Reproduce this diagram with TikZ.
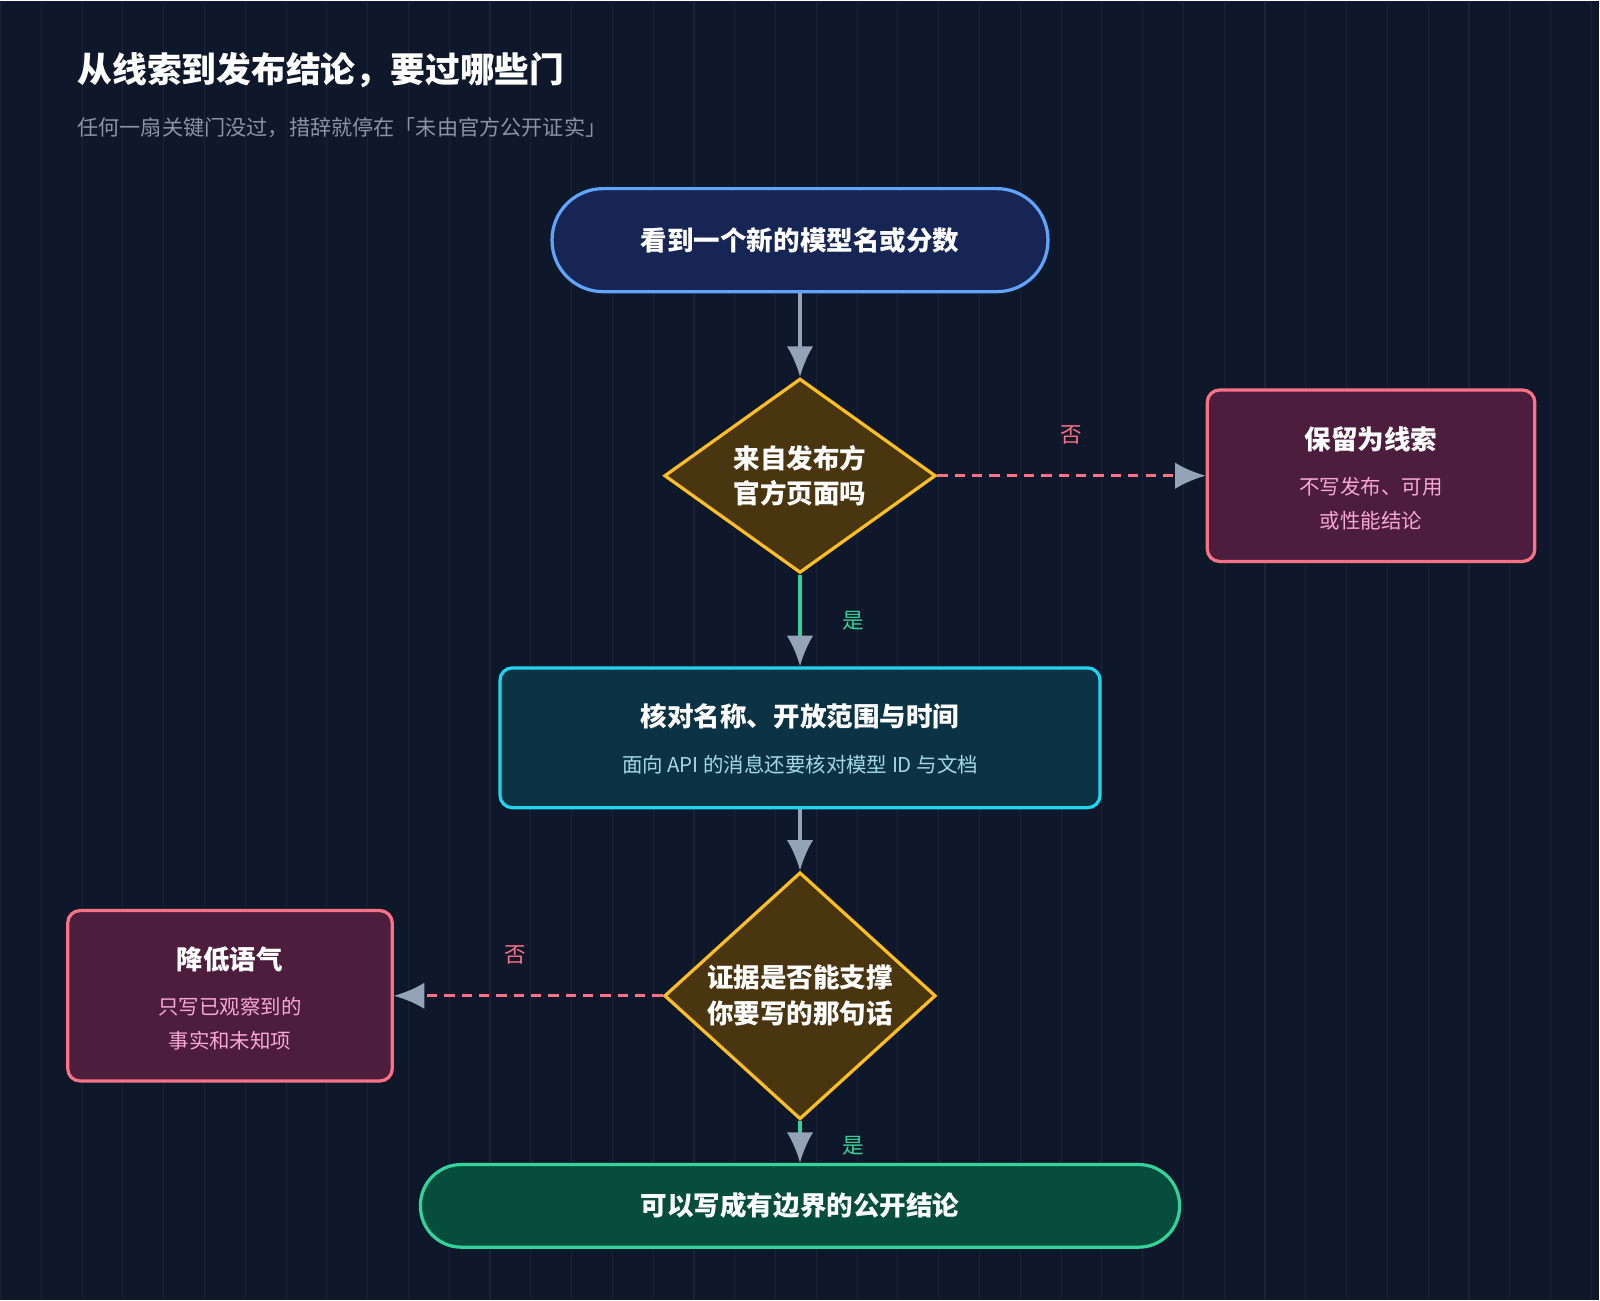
\documentclass[tikz,border=0pt]{standalone}
\usepackage{fontspec}
\setmainfont{Noto Sans CJK SC}
\usetikzlibrary{shapes.geometric,arrows.meta}
\definecolor{night}{HTML}{0F172A}
\definecolor{gridline}{HTML}{1A2438}
\definecolor{slate}{HTML}{94A3B8}
\definecolor{subgray}{HTML}{8A94A6}
\definecolor{navyfill}{HTML}{172554}
\definecolor{skyline}{HTML}{60A5FA}
\definecolor{amberfill}{HTML}{4A3511}
\definecolor{amberline}{HTML}{FBBF24}
\definecolor{plumfill}{HTML}{4C1D3D}
\definecolor{roseline}{HTML}{FB7185}
\definecolor{tealfill}{HTML}{0C3344}
\definecolor{cyanline}{HTML}{22D3EE}
\definecolor{pinegreen}{HTML}{064E3B}
\definecolor{mintline}{HTML}{34D399}
\definecolor{rosetext}{HTML}{F9A8D4}
\definecolor{cyantext}{HTML}{A5D8E6}
\tikzset{
  base/.style={line width=0.9pt, text=white, align=center, font=\fontsize{7.4}{10}\selectfont\bfseries},
  pill/.style={base, rounded corners=0.5cm},
  gate/.style={base, diamond, draw=amberline, fill=amberfill, minimum width=2.66cm, minimum height=1.86cm, inner sep=0pt},
  card/.style={base, rounded corners=0.12cm},
  arr/.style={line width=0.9pt, draw=slate, -{Latex[length=0.3cm,width=0.26cm,color=slate]}},
  yes/.style={arr, draw=mintline},
  no/.style={arr, draw=roseline, dashed, dash pattern=on 0.1cm off 0.07cm},
  tag/.style={font=\fontsize{6}{7}\selectfont},
  sub/.style={font=\fontsize{5.7}{9.5}\selectfont}
}
\begin{document}
\begin{tikzpicture}[x=0.01cm,y=-0.01cm]
  \fill[night] (0,0) rectangle (1568,1274);
  \draw[gridline, line width=0.3pt, step=40] (0,0) grid (1568,1274);
  \useasboundingbox (0,0) rectangle (1568,1274);
  % title
  \node[anchor=west, text=white, font=\fontsize{9.7}{12}\selectfont\bfseries] (title) at (63,68) {从线索到发布结论，要过哪些门};
  \node[anchor=west, text=subgray, font=\fontsize{5.9}{8}\selectfont] (subtitle) at (63,125) {任何一扇关键门没过，措辞就停在「未由官方公开证实」};
  % nodes
  \node[pill, draw=skyline, fill=navyfill, minimum width=4.86cm, minimum height=1.01cm] (start) at (784,235) {看到一个新的模型名或分数};
  \node[gate] (official) at (784,466) {来自发布方\\官方页面吗};
  \node[card, draw=roseline, fill=plumfill, minimum width=3.21cm, minimum height=1.68cm] (clue) at (1344,466) {};
  \node[base] (cluehead) at (1344,430) {保留为线索};
  \node[sub, text=rosetext, align=center] (cluebody) at (1344,493) {不写发布、可用\\或性能结论};
  \node[card, draw=cyanline, fill=tealfill, minimum width=5.88cm, minimum height=1.37cm] (check) at (784,723) {};
  \node[base] (checkhead) at (784,702) {核对名称、开放范围与时间};
  \node[sub, text=cyantext] (checkbody) at (784,749) {面向 API 的消息还要核对模型 ID 与文档};
  \node[gate] (evidence) at (784,976) {证据是否能支撑\\你要写的那句话};
  \node[card, draw=roseline, fill=plumfill, minimum width=3.18cm, minimum height=1.67cm] (soften) at (225,976) {};
  \node[base] (softenhead) at (225,940) {降低语气};
  \node[sub, text=rosetext, align=center] (softenbody) at (225,1003) {只写已观察到的\\事实和未知项};
  \node[pill, draw=mintline, fill=pinegreen, minimum width=7.44cm, minimum height=0.81cm, rounded corners=0.4cm] (publish) at (784,1182) {可以写成有边界的公开结论};
  % connectors
  \draw[arr] (start) -- (official);
  \draw[no] (official) -- node[tag, text=roseline, above=5pt] {否} (clue);
  \draw[yes] (official) -- node[tag, text=mintline, right=8pt, pos=0.5] {是} (check);
  \draw[arr] (check) -- (evidence);
  \draw[no] (evidence) -- node[tag, text=roseline, above=5pt, pos=0.55] {否} (soften);
  \draw[yes] (evidence) -- node[tag, text=mintline, right=8pt, pos=0.6] {是} (publish);
\end{tikzpicture}
\end{document}
